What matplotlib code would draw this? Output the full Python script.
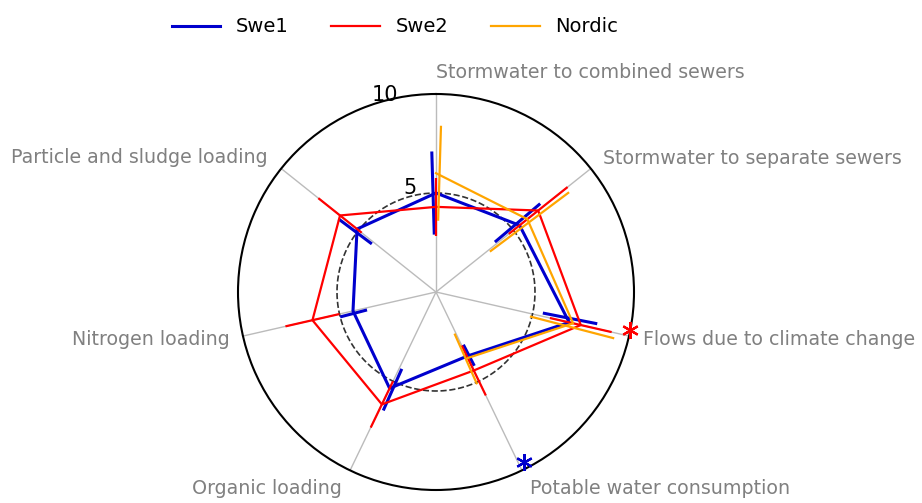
import numpy as np
import matplotlib
matplotlib.use("Agg")
import matplotlib.pyplot as plt

categories = ['Stormwater to combined sewers', 'Stormwater to separate sewers',
              'Flows due to climate change', 'Potable water consumption',
              'Organic loading', 'Nitrogen loading', 'Particle and sludge loading']
nan = np.nan
swe1       = [5.0, 5.4, 6.9, 3.6, 5.4, 4.3, 5.1]
swe1_err   = [2.1, 1.5, 1.4, 0.6, 1.15, 0.7, 1.05]
swe2       = [4.3, 6.6, 7.5, 4.4, 6.3, 6.4, 6.2]
swe2_err   = [1.45, 1.9, 1.6, 1.4, 1.3, 1.4, 1.4]
nordic     = [6.0, 5.9, 7.1, 3.7, nan, nan, nan]
nordic_err = [2.4, 2.5, 2.2, 1.4, nan, nan, nan]
# significance stars: (series, category index, radius)
stars = [('Swe2', 2, 10.0), ('Swe1', 3, 9.7)]

colors = {'Swe1': 'mediumblue', 'Swe2': 'red', 'Nordic': 'orange'}
offsets = {'Swe1': -0.03, 'Swe2': 0.0, 'Nordic': 0.03}

n = len(categories)
theta = np.arange(n) * 2 * np.pi / n

fig = plt.figure(figsize=(9.22, 5.03), dpi=100)
ax = fig.add_axes([238/922, 13/503, 396/922, 396/503], projection='polar')
ax.set_theta_zero_location('N')
ax.set_theta_direction(-1)
ax.set_ylim(0, 10)

series = [('Swe1', swe1, swe1_err, 2.2, True),
          ('Swe2', swe2, swe2_err, 1.6, True),
          ('Nordic', nordic, nordic_err, 1.6, False)]
for name, vals, errs, lw, closed in series:
    v = np.array(vals, dtype=float)
    e = np.array(errs, dtype=float)
    th = theta
    if closed:
        th = np.append(theta, theta[0])
        v_line = np.append(v, v[0])
    else:
        v_line = v
    ax.plot(th, v_line, color=colors[name], lw=lw, label=name, zorder=3)
    ax.errorbar(theta + offsets[name], v, yerr=e, fmt='none',
                ecolor=colors[name], elinewidth=lw, capsize=0, zorder=3)

for name, i, r in stars:
    ax.plot(theta[i] - 0.03, r, marker=(6, 2, 0), ms=12, mew=1.6,
            color=colors[name], clip_on=False, zorder=5)

# dashed reference circle at 5
circ = np.linspace(0, 2 * np.pi, 300)
ax.plot(circ, np.full_like(circ, 5), color='#333333', ls='--', lw=1.2, zorder=2)

ax.set_xticks(theta)
ax.set_xticklabels([])
ax.xaxis.grid(True, color='#bbbbbb', lw=1)
ax.yaxis.grid(False)
ax.set_yticks([5, 10])
ax.set_yticklabels(['5', '10'], fontsize=15)
ax.set_rlabel_position(-19)
ax.spines['polar'].set_linewidth(1.5)

label_r = [11.1, 10.8, 10.7, 11.0, 11.0, 10.7, 10.9]
for i, lab in enumerate(categories):
    ang = theta[i]
    ha = 'left' if (i == 0 or np.sin(ang) > 0) else 'right'
    ax.text(ang, label_r[i], lab, ha=ha, va='center', fontsize=13.7,
            color='grey', clip_on=False)

fig.legend(loc='upper center', bbox_to_anchor=(395/922, 1.0), ncol=3,
           frameon=False, fontsize=14, handlelength=2.5, columnspacing=2.2)

fig.savefig('out.png', dpi=100)
